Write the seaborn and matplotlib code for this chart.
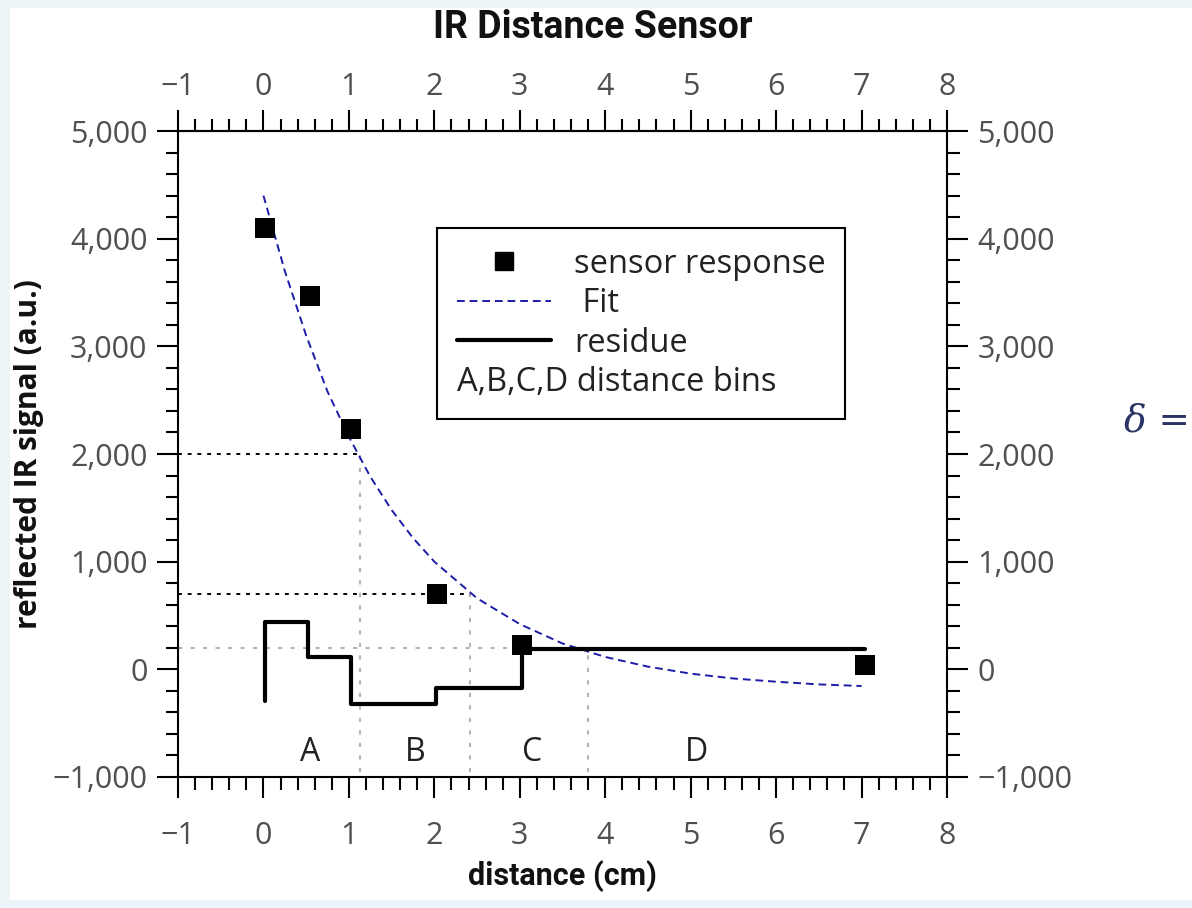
import matplotlib
matplotlib.use("Agg")
import matplotlib.pyplot as plt
import seaborn as sns
from matplotlib.lines import Line2D
from matplotlib.text import Text
from matplotlib.patches import Rectangle
from matplotlib.legend_handler import HandlerBase
from matplotlib.ticker import MultipleLocator, FuncFormatter

# --- data ---
sensor_x = [0.02, 0.55, 1.03, 2.03, 3.03, 7.04]
sensor_y = [4100, 3470, 2230, 700, 230, 40]

fit_x = [0, 0.25, 0.5, 0.75, 1.0, 1.25, 1.5, 1.75, 2.0, 2.5, 3.0, 3.5, 4.0, 4.5, 5.0, 5.5, 6.0, 6.5, 7.0]
fit_y = [4400, 3700, 3100, 2580, 2160, 1790, 1480, 1220, 1000, 660, 420, 240, 115, 25, -40, -85, -115, -140, -155]

residue_x = [0.02, 0.02, 0.52, 1.02, 2.02, 3.03, 7.04]
residue_y = [-290, 440, 110, -320, -175, 185, 185]

bin_names = ["A", "B", "C", "D"]
bin_label_x = [0.55, 1.78, 3.14, 5.07]
bin_label_y = -770
bin_edges = [1.13, 2.42, 3.8]
bin_levels = [2000, 700, 200]

FIT_BLUE = "#1c1ca8"
TICK_GREY = "#505050"

sns.set_theme(style="ticks")
plt.rcParams["font.family"] = ["Open Sans", "DejaVu Sans"]
NARROW = ["Roboto", "DejaVu Sans"]

fig = plt.figure(figsize=(11.92, 9.08), dpi=100)
fig.patch.set_facecolor("#edf4f7")
fig.patches.append(Rectangle((10 / 1192, 8 / 908), 1, 1 - 16 / 908,
                             transform=fig.transFigure, facecolor="white",
                             edgecolor="none", zorder=-10))
ax = fig.add_axes([178 / 1192, 1 - 777 / 908, (947 - 178) / 1192, (777 - 131) / 908])
ax.set_facecolor("white")

# guide lines for the distance bins
grey_dot = dict(color="#b4b4b4", linewidth=1.5, linestyle=(0, (2, 4)), zorder=1)
black_dot = dict(color="black", linewidth=1.4, linestyle=(0, (2, 3)), zorder=2)
for edge, level in zip(bin_edges, bin_levels):
    ax.vlines(edge, -950, level, **grey_dot)
ax.hlines(bin_levels[:2], -1, bin_edges[:2], **black_dot)
ax.hlines(bin_levels[2], -1, bin_edges[2], **grey_dot)

sns.lineplot(x=fit_x, y=fit_y, ax=ax, color=FIT_BLUE, linewidth=1.4,
             linestyle=(0, (4, 2.5)), estimator=None, sort=False, zorder=3)
sns.lineplot(x=residue_x, y=residue_y, ax=ax, color="black", linewidth=3,
             drawstyle="steps-post", estimator=None, sort=False, zorder=4)
sns.scatterplot(x=sensor_x, y=sensor_y, ax=ax, marker="s", s=190,
                color="black", linewidth=0, zorder=5)

for name, bx in zip(bin_names, bin_label_x):
    ax.text(bx, bin_label_y, name, ha="center", va="center", fontsize=23, color="#222222")

# axes / ticks
xfmt = FuncFormatter(lambda v, p: f"{v:.0f}".replace("-", "\u2212"))
ax.set_xlim(-1, 8)
ax.set_ylim(-1000, 5000)
ax.xaxis.set_major_locator(MultipleLocator(1))
ax.xaxis.set_minor_locator(MultipleLocator(0.2))
ax.yaxis.set_major_locator(MultipleLocator(1000))
ax.yaxis.set_minor_locator(MultipleLocator(200))
ax.xaxis.set_major_formatter(xfmt)
ax.yaxis.set_major_formatter(FuncFormatter(lambda v, p: f"{v:,.0f}".replace("-", "\u2212")))
tick_style = dict(which="both", direction="out", color="black", width=1.5,
                  labelcolor=TICK_GREY, labelsize=22)
ax.tick_params(top=False, right=True, labeltop=False, labelright=True, **tick_style)
ax.tick_params(which="major", length=15)
ax.tick_params(which="minor", length=9)
ax.tick_params(axis="x", which="major", pad=17)
ax.tick_params(axis="y", which="major", pad=7)
for sp in ax.spines.values():
    sp.set_visible(True)
    sp.set_color("black")
    sp.set_linewidth(1.5)

# top axis mirrors the bottom one, labels sit closer to the frame
top = ax.secondary_xaxis("top")
top.xaxis.set_major_locator(MultipleLocator(1))
top.xaxis.set_minor_locator(MultipleLocator(0.2))
top.xaxis.set_major_formatter(xfmt)
top.tick_params(**tick_style)
top.tick_params(which="major", length=15, pad=6)
top.tick_params(which="minor", length=9)
top.spines["top"].set_linewidth(1.5)
top.spines["top"].set_color("black")

ax.set_xlabel("distance (cm)", family=NARROW, fontweight="bold", fontsize=22,
              labelpad=6, color="#111111")
ax.set_ylabel("reflected IR signal (a.u.)", fontweight="bold", fontsize=21.5,
              labelpad=6, color="#111111")
fig.text(593 / 1192, 1 - 28 / 908, "IR Distance Sensor", family=NARROW,
         fontweight="bold", fontsize=27, ha="center", va="center", color="#111111")


# legend: last row shows only text, starting where the handles start
class TextRow:
    def __init__(self, text):
        self.text = text


class TextRowHandler(HandlerBase):
    def create_artists(self, legend, orig_handle, xdescent, ydescent, width,
                       height, fontsize, trans):
        t = Text(-xdescent, -ydescent, orig_handle.text, fontsize=fontsize,
                 ha="left", va="baseline", color="#222222", transform=trans)
        return [t]


handles = [
    Line2D([], [], marker="s", markersize=13.5, color="black", linestyle="none"),
    Line2D([], [], color=FIT_BLUE, linewidth=1.4, linestyle=(0, (4, 2.5))),
    Line2D([], [], color="black", linewidth=3),
    TextRow("A,B,C,D distance bins"),
]
labels = ["sensor response", " Fit", "residue", " "]
leg = ax.legend(handles, labels, handler_map={TextRow: TextRowHandler()},
                loc="upper left", bbox_to_anchor=(437 / 1192, 1 - 228 / 908),
                bbox_transform=fig.transFigure, borderaxespad=0, fontsize=23.5,
                handlelength=2.9, handletextpad=0.7, borderpad=0.6,
                labelspacing=0.2, fancybox=False, framealpha=1,
                edgecolor="black", labelcolor="#222222")
leg.get_frame().set_linewidth(1.5)

fig.text(1124 / 1192, 1 - 422 / 908, "\u03b4 =", family="DejaVu Serif",
         style="italic", fontsize=27, color="#2a3566", ha="left", va="center")

fig.savefig("out.png", dpi=100, facecolor=fig.get_facecolor())
